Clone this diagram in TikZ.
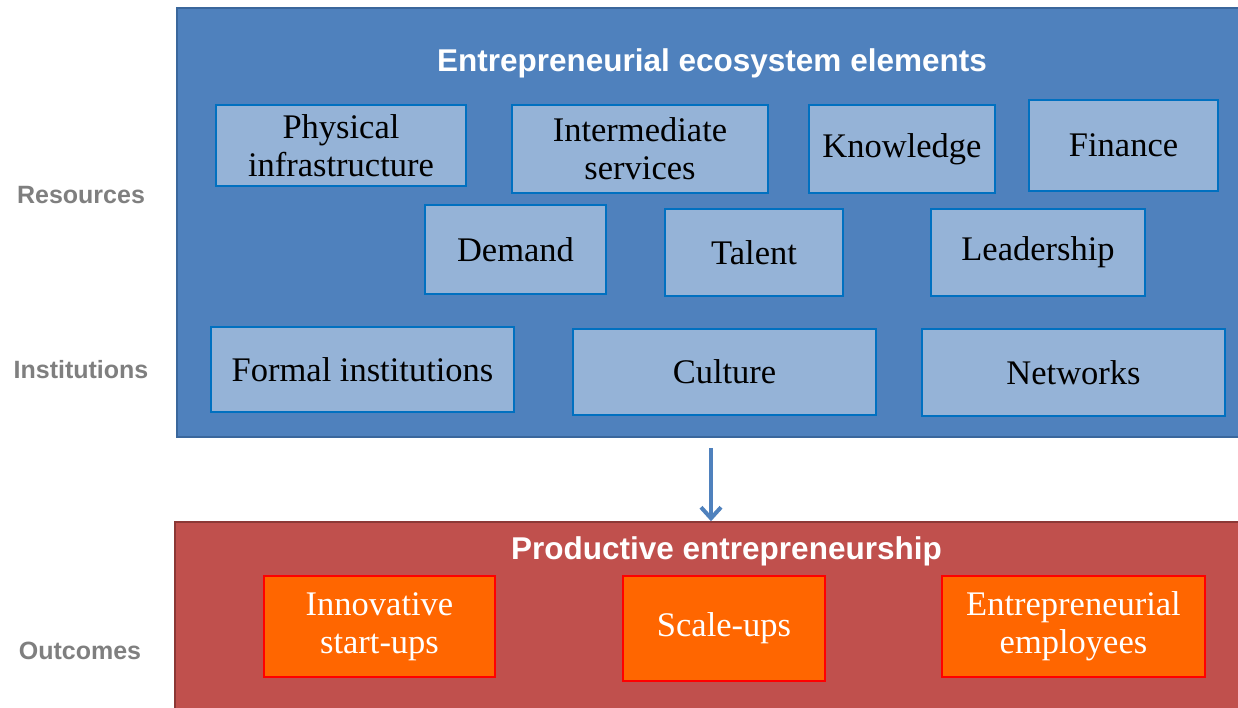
\documentclass[tikz,border=0pt]{standalone}
\usepackage{fontspec}
\setmainfont{Liberation Serif}
\setsansfont{Liberation Sans}
\usetikzlibrary{arrows.meta}
\definecolor{ecofill}{HTML}{4F81BD}
\definecolor{ecoline}{HTML}{3A679C}
\definecolor{boxfill}{HTML}{95B3D7}
\definecolor{boxline}{HTML}{0070C0}
\definecolor{prodfill}{HTML}{C0504D}
\definecolor{prodline}{HTML}{8C3836}
\definecolor{outfill}{HTML}{FF6600}
\definecolor{labelgray}{HTML}{7F7F7F}
\tikzset{
  elem/.style={draw=boxline,fill=boxfill,line width=2.5pt,inner sep=0pt,
    align=center,font=\fontsize{34.5}{38}\selectfont},
  outc/.style={draw=red,fill=outfill,line width=2.5pt,inner sep=0pt,
    align=center,text=white,font=\fontsize{34.5}{38}\selectfont},
  side/.style={text=labelgray,font=\sffamily\bfseries\fontsize{25}{30}\selectfont},
  head/.style={text=white,font=\sffamily\bfseries\fontsize{31.5}{36}\selectfont}
}
\begin{document}
\begin{tikzpicture}[x=1pt,y=-1pt]
	\useasboundingbox (0,0) rectangle (1238,708);
	% big boxes
	\node[draw=ecoline,fill=ecofill,line width=1.5pt,minimum width=1063pt,minimum height=429pt] (eco) at (708.5,222.5) {};
	\node[draw=prodline,fill=prodfill,line width=1.5pt,minimum width=1065pt,minimum height=188pt] (prod) at (707.5,616) {};
	\node[head] (ecotitle) at (712,63) {Entrepreneurial ecosystem elements};
	\node[head] (prodtitle) at (726.5,551) {Productive entrepreneurship};
	% row labels
	\node[side] (res) at (81,195) {Resources};
	\node[side] (inst) at (81,370) {Institutions};
	\node[side] (outl) at (80,651) {Outcomes};
	% resources
	\node[elem,minimum width=250pt,minimum height=81pt] (phys) at (341,145.5) {Physical\\infrastructure};
	\node[elem,minimum width=256pt,minimum height=88pt] (inter) at (640,149) {Intermediate\\services};
	\node[elem,minimum width=186pt,minimum height=88pt] (know) at (902,149) {Knowledge};
	\node[elem,minimum width=189pt,minimum height=91pt] (fin) at (1123.5,145.5) {Finance};
	\node[elem,minimum width=181pt,minimum height=89pt] (dem) at (515.5,249.5) {Demand};
	\node[elem,minimum width=178pt,minimum height=87pt] (tal) at (754,252.5) {Talent};
	\node[elem,minimum width=214pt,minimum height=87pt] (lead) at (1038,252.5) {Leadership};
	% institutions
	\node[elem,minimum width=303pt,minimum height=85pt] (formal) at (362.5,369.5) {Formal institutions};
	\node[elem,minimum width=303pt,minimum height=86pt] (cult) at (724.5,372) {Culture};
	\node[elem,minimum width=303pt,minimum height=87pt] (netw) at (1073.5,372.5) {Networks};
	% outcomes
	\node[outc,minimum width=231pt,minimum height=101pt] (innov) at (379.5,626.5) {Innovative\\start-ups};
	\node[outc,minimum width=202pt,minimum height=105pt] (scale) at (724,628.5) {Scale-ups};
	\node[outc,minimum width=263pt,minimum height=101pt] (empl) at (1073.5,626.5) {Entrepreneurial\\employees};
	% arrow
	\coordinate (arrtop) at (711,448);
	\draw[-{Straight Barb[length=11pt,width=20pt]},ecofill,line width=4pt] (arrtop) -- (arrtop |- prod.north);
\end{tikzpicture}
\end{document}
